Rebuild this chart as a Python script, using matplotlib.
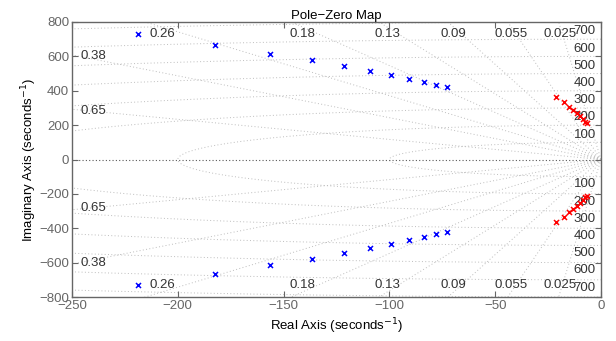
import numpy as np
import matplotlib
matplotlib.use("Agg")
import matplotlib.pyplot as plt

plt.rcParams['font.family'] = ['Liberation Sans', 'DejaVu Sans']

# Poles (upper half; lower half are conjugates)
blue_re = [-218.9, -182.3, -156.3, -136.5, -121.4, -109.2, -99.1, -90.8, -83.8, -77.8, -72.6]
blue_im = [728, 664, 616, 577, 544, 515, 491, 470, 453, 435, 421]
red_re = [-21.3, -17.7, -15.0, -13.1, -11.5, -10.0, -8.5, -7.5, -6.5]
red_im = [365, 332, 307, 287, 270, 252, 237, 220, 210]

zeta_top = [0.26, 0.18, 0.13, 0.09, 0.055, 0.025]
zeta_left = [0.38, 0.65]
zeta_labels = {0.26: '0.26', 0.18: '0.18', 0.13: '0.13', 0.09: '0.09',
               0.055: '0.055', 0.025: '0.025', 0.38: '0.38', 0.65: '0.65'}
wn_values = [100, 200, 300, 400, 500, 600, 700, 800]
wn_labeled = [100, 200, 300, 400, 500, 600, 700]

xticks = [-250, -200, -150, -100, -50, 0]
yticks = [-800, -600, -400, -200, 0, 200, 400, 600, 800]

FS = 9.5

fig = plt.figure(figsize=(6.16, 3.41), dpi=100)
ax = fig.add_axes([72/616, 1-297/341, (601-72)/616, (297-22)/341])

xlim = (-250, 0)
ylim = (-800, 800)
grid_kw = dict(color=(0.74, 0.74, 0.74), linewidth=0.7, linestyle=(0, (1, 2.4)), zorder=1)

# damping lines
R = 2000
for z in zeta_top + zeta_left:
    ang = np.arccos(z)
    for s in (1, -1):
        ax.plot([0, -R*np.cos(ang)], [0, s*R*np.sin(ang)], **grid_kw)
# wn circles (left half)
th = np.linspace(np.pi/2, 3*np.pi/2, 800)
for w in wn_values:
    ax.plot(w*np.cos(th), w*np.sin(th), **grid_kw)
# real axis line
ax.plot([xlim[0], 0], [0, 0], color=(0.35, 0.35, 0.35), linewidth=0.8,
        linestyle=(0, (1, 2)), zorder=1)

lab_kw = dict(fontsize=FS, color=(0.2, 0.2, 0.2), zorder=3)
for z in zeta_top:
    slope = np.sqrt(1 - z*z)/z
    xc = -770/slope
    for s in (1, -1):
        ax.text(xc, s*728, zeta_labels[z], ha='center', va='center', **lab_kw)
for z in zeta_left:
    slope = np.sqrt(1 - z*z)/z
    yc = 250*slope - 8
    for s in (1, -1):
        ax.text(-246, s*yc, zeta_labels[z], ha='left', va='center', **lab_kw)
for w in wn_labeled:
    for s in (1, -1):
        ax.text(-2.5, s*(w + 45), str(w), ha='right', va='center', **lab_kw)

# poles
mk = dict(markersize=3.6, mew=1.1, zorder=4, linestyle='none', marker='x')
ax.plot(blue_re, blue_im, color='blue', **mk)
ax.plot(blue_re, [-v for v in blue_im], color='blue', **mk)
ax.plot(red_re, red_im, color='red', **mk)
ax.plot(red_re, [-v for v in red_im], color='red', **mk)

ax.set_xlim(*xlim)
ax.set_ylim(*ylim)
ax.set_xticks(xticks)
ax.set_yticks(yticks)
ax.set_xticklabels(['\u2212250', '\u2212200', '\u2212150', '\u2212100', '\u221250', '0'])
ax.set_yticklabels([('\u2212' + str(-v)) if v < 0 else str(v) for v in yticks])
ax.tick_params(direction='in', length=4, width=0.8, colors=(0.4, 0.4, 0.4),
               labelsize=FS, top=True, right=True, pad=2)
for sp in ax.spines.values():
    sp.set_color((0.4, 0.4, 0.4))
    sp.set_linewidth(1.0)

ax.set_title('Pole\u2212Zero Map', fontsize=FS, color='black', pad=2)
ax.set_xlabel('Real Axis (seconds$^{-1}$)', fontsize=FS, color='black', labelpad=3)
ax.set_ylabel('Imaginary Axis (seconds$^{-1}$)', fontsize=FS, color='black', labelpad=0)

fig.savefig('out.png', dpi=100)
